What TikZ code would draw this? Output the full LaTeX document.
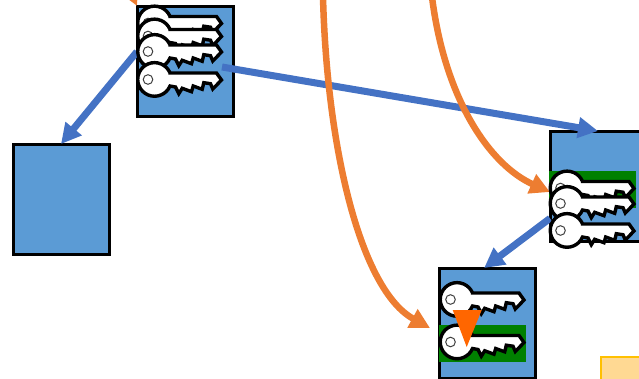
\documentclass[tikz,border=0pt]{standalone}
\usepackage{tikz}
\usetikzlibrary{arrows.meta,positioning}

\definecolor{boxblue}{HTML}{5B9BD5}
\definecolor{linkblue}{HTML}{4472C4}
\definecolor{linkorange}{HTML}{ED7D31}
\definecolor{markorange}{HTML}{FF6600}
\definecolor{keygreen}{HTML}{008000}
\definecolor{noteyellow}{HTML}{FFD993}
\definecolor{noteedge}{HTML}{FFC000}

\tikzset{
  store/.style={draw=black, line width=3pt, fill=boxblue, rectangle, inner sep=0pt,
    outer sep=0pt, minimum width=96pt, minimum height=110pt, anchor=north west},
  bluelink/.style={draw=linkblue, line width=7pt, -{Triangle[length=20pt,width=20pt]}},
  orangelink/.style={draw=linkorange, line width=6.5pt, -{Triangle[length=20pt,width=20pt]}},
  keyicon/.pic={
    \draw[black, line width=3.4pt, fill=white, line join=miter]
      (15.5,-6.5) -- (62,-6.5) -- (67,0.5) -- (58.3,9.5) -- (56,4.2) -- (49.3,3.2)
      -- (47.7,9.8) -- (38.7,6.5) -- (37,12.2) -- (27.7,8.8) -- (24.3,14.2) -- (21,7.5)
      -- (15.5,6.5) arc[start angle=23, end angle=337, radius=16.8] -- cycle;
    \draw[black!75, line width=1pt, fill=white] (-6.5,0) circle (4.8);
  }
}

\begin{document}
\begin{tikzpicture}[x=1pt,y=-1pt]
\useasboundingbox (0,0) rectangle (639,378);
\clip (0,0) rectangle (639,378);

% Stores
\node[store] (storeA) at (137,6) {};
\node[store] (storeB) at (13,144) {};
\node[store] (storeC) at (550,131) {};
\node[store] (storeD) at (439,268) {};
\node[draw=noteedge, line width=2.4pt, fill=noteyellow, rectangle, inner sep=0pt,
  minimum width=60pt, minimum height=40pt, anchor=north west] (note) at (600,356) {};

% Green marks behind the keys
\fill[keygreen] (549,171) rectangle (636,208);
\fill[keygreen] (439,325) rectangle (526,362);

% Free ends of the links
\coordinate (keyout) at (222,67);
\coordinate (topA) at (323,-3);
\coordinate (topB) at (432,-3);
\coordinate (topC) at (128,-14);
\coordinate (nearD) at (430,328);
\coordinate (nearC) at (550,192);

% Links
\draw[bluelink] (storeA.169) -- (storeB.north);
\draw[bluelink] (keyout) -- (storeC.north);
\draw[bluelink] (storeC.214) -- (storeD.93);
\draw[orangelink] (topA) .. controls (327,150) and (361,290) .. (nearD);
\draw[orangelink] (topB) .. controls (445,100) and (490,165) .. (nearC);
\draw[orangelink] (topC) -- (storeA.north west);

% Keys
\foreach \keyy in {23,36,51.5,79.5}
  \pic at (154.5,\keyy) {keyicon};
\foreach \keyy in {188,203.5,230.5}
  \pic at (567,\keyy) {keyicon};
\foreach \keyy in {299.5,342}
  \pic at (457,\keyy) {keyicon};

% Marker over the lower key
\fill[markorange] (452.7,310) -- (481.7,310) -- (466.7,347) -- cycle;
\end{tikzpicture}
\end{document}
